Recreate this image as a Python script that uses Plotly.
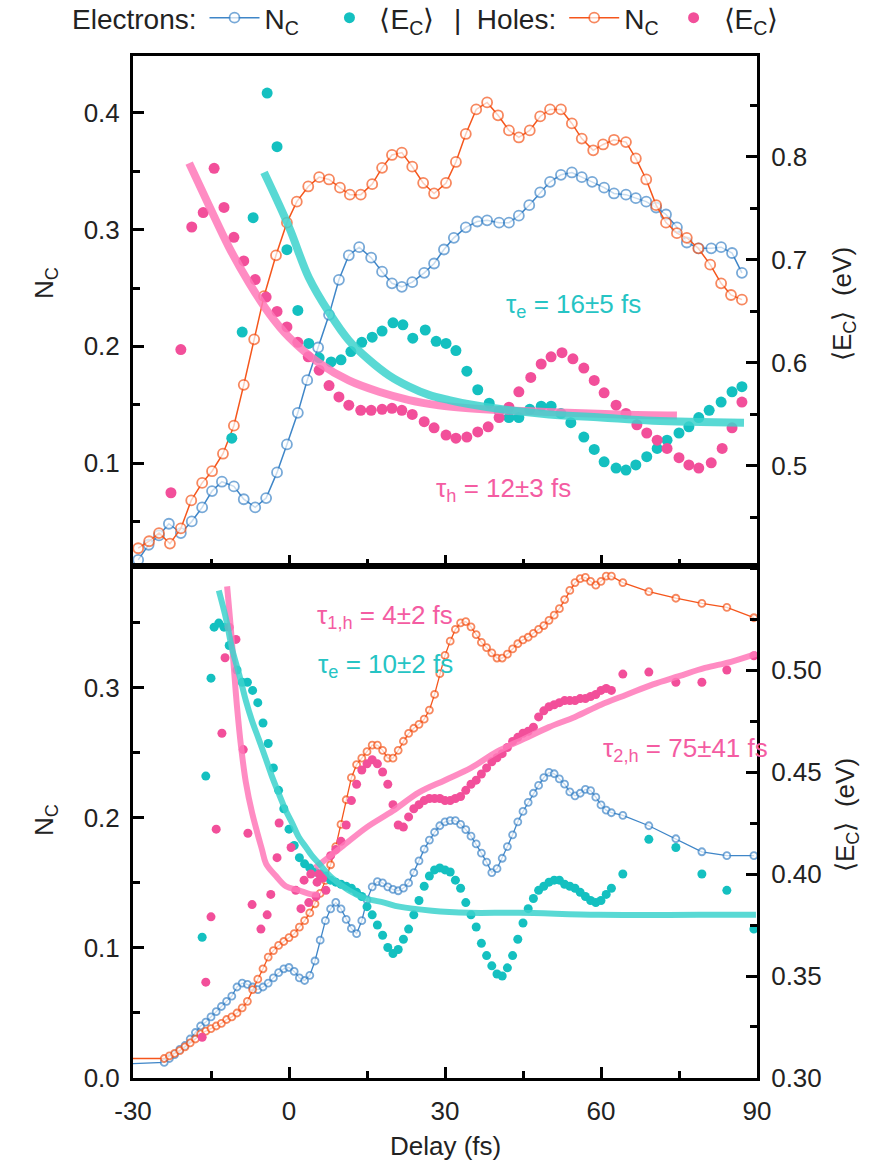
import plotly.graph_objects as go

# ---------------- data : top panel ----------------
t_top_ne = [-29.0, -27.0, -25.0, -23.1, -20.8, -18.7, -16.7, -14.8, -12.9, -10.6,
            -8.7, -6.5, -4.4, -2.3, -0.4, 1.7, 3.5, 5.6, 7.7, 9.6,
            11.5, 13.5, 15.8, 17.9, 19.8, 21.7, 23.7, 26.0, 27.9, 29.8,
            31.7, 34.0, 36.2, 38.1, 40.4, 42.3, 44.2, 46.2, 48.3, 50.2,
            52.3, 54.4, 56.3, 58.3, 60.6, 62.5, 64.8, 66.7, 68.7, 70.6,
            72.5, 74.6, 76.5, 78.8, 81.2, 83.1, 85.2, 87.1]
n_top_e = [0.017, 0.030, 0.038, 0.048, 0.040, 0.050, 0.062, 0.076, 0.084, 0.080,
           0.069, 0.062, 0.070, 0.092, 0.116, 0.143, 0.171, 0.199, 0.227, 0.257,
           0.278, 0.285, 0.276, 0.264, 0.254, 0.251, 0.255, 0.263, 0.271, 0.283,
           0.293, 0.302, 0.307, 0.308, 0.306, 0.306, 0.312, 0.321, 0.332, 0.341,
           0.347, 0.349, 0.345, 0.341, 0.336, 0.331, 0.330, 0.327, 0.324, 0.319,
           0.313, 0.302, 0.289, 0.284, 0.284, 0.285, 0.280, 0.263]

t_top_nh = [-29.0, -26.9, -25.0, -22.9, -20.8, -18.8, -16.7, -14.8, -12.7, -10.6,
            -8.7, -6.7, -4.8, -2.5, -0.4, 1.5, 3.7, 5.8, 7.7, 9.8,
            11.7, 13.8, 16.0, 17.9, 19.8, 21.7, 23.7, 25.8, 27.9, 30.2,
            32.1, 34.0, 36.0, 38.1, 40.2, 42.3, 44.2, 46.3, 48.3, 50.2,
            52.3, 54.4, 56.3, 58.5, 60.4, 62.5, 64.8, 66.7, 68.7, 70.6,
            72.5, 74.6, 76.5, 78.7, 81.0, 83.1, 85.0, 87.1]
n_top_h = [0.027, 0.033, 0.040, 0.031, 0.044, 0.068, 0.083, 0.093, 0.108, 0.132,
           0.167, 0.206, 0.243, 0.278, 0.306, 0.324, 0.337, 0.345, 0.343, 0.336,
           0.330, 0.330, 0.339, 0.353, 0.364, 0.366, 0.354, 0.340, 0.331, 0.340,
           0.358, 0.382, 0.403, 0.409, 0.398, 0.385, 0.379, 0.385, 0.397, 0.403,
           0.403, 0.391, 0.378, 0.368, 0.373, 0.377, 0.375, 0.361, 0.343, 0.321,
           0.306, 0.297, 0.293, 0.284, 0.270, 0.254, 0.244, 0.240]

t_top_ee = [-11.0, -9.0, -6.9, -4.2, -2.3, -0.4, 1.7, 3.8, 5.8, 8.1,
            10.0, 11.9, 14.0, 16.0, 17.9, 20.0, 21.9, 23.8, 26.2, 28.3,
            30.2, 32.1, 34.2, 36.3, 38.5, 40.4, 42.3, 44.2, 46.3, 48.5,
            50.4, 52.3, 54.2, 56.7, 58.7, 60.6, 62.9, 64.8, 66.7, 68.8,
            70.8, 72.7, 75.0, 76.9, 78.8, 80.8, 83.1, 85.2, 87.1]
e_top_e = [0.527, 0.630, 0.741, 0.862, 0.810, 0.710, 0.651, 0.619, 0.605, 0.601,
           0.603, 0.611, 0.620, 0.625, 0.631, 0.639, 0.637, 0.624, 0.632, 0.621,
           0.619, 0.612, 0.592, 0.574, 0.561, 0.553, 0.547, 0.547, 0.555, 0.558,
           0.558, 0.551, 0.542, 0.528, 0.516, 0.504, 0.498, 0.496, 0.501, 0.509,
           0.517, 0.525, 0.532, 0.538, 0.547, 0.554, 0.562, 0.572, 0.577]

t_top_eh = [-22.7, -20.8, -18.7, -16.5, -14.4, -12.5, -10.6, -8.7, -6.5, -4.4,
            -2.3, -0.4, 1.7, 3.7, 5.8, 7.7, 9.6, 11.5, 13.8, 15.8,
            17.9, 19.8, 21.7, 23.7, 26.0, 27.9, 30.2, 32.1, 34.2, 36.3,
            38.3, 40.4, 42.3, 44.2, 46.5, 48.5, 50.4, 52.5, 54.6, 56.7,
            58.7, 60.6, 62.9, 64.8, 66.9, 68.8, 70.8, 72.7, 75.0, 76.9,
            78.8, 81.2, 83.3, 85.2, 87.1]
e_top_h = [0.474, 0.613, 0.732, 0.746, 0.789, 0.751, 0.722, 0.699, 0.681, 0.664,
           0.650, 0.635, 0.620, 0.606, 0.593, 0.578, 0.567, 0.559, 0.554, 0.554,
           0.555, 0.556, 0.554, 0.550, 0.543, 0.537, 0.530, 0.527, 0.528, 0.533,
           0.538, 0.547, 0.557, 0.572, 0.586, 0.599, 0.606, 0.610, 0.604, 0.595,
           0.583, 0.571, 0.559, 0.551, 0.540, 0.532, 0.525, 0.517, 0.508, 0.501,
           0.498, 0.503, 0.517, 0.537, 0.562]

# fits
t_fit_top_e = [-4.8, 0.0, 3.8, 7.7, 11.5, 15.4, 19.2, 23.1, 26.9, 30.8, 34.6, 41.0, 50.0, 60.0, 70.0, 87.5]
e_fit_top_e = [0.785, 0.732, 0.683, 0.649, 0.622, 0.603, 0.588, 0.577, 0.569, 0.564, 0.560, 0.555, 0.550, 0.547, 0.544, 0.542]
t_fit_top_h = [-19.2, -15.4, -11.5, -7.7, -3.8, 0.0, 5.8, 11.5, 17.3, 23.1, 28.8, 34.6, 41.0, 52.0, 63.5, 74.6]
e_fit_top_h = [0.794, 0.753, 0.712, 0.678, 0.648, 0.625, 0.600, 0.583, 0.572, 0.564, 0.559, 0.556, 0.554, 0.552, 0.550, 0.549]

# ---------------- data : bottom panel ----------------
t_bot_n = [-30, -24, -23, -22, -21, -20, -19, -18, -17, -16, -15, -14, -13, -12, -11, -10,
           -9, -8, -7, -6, -5, -4, -3, -2, -1, 0, 1, 2, 3, 4, 5, 6, 7, 8, 9, 10,
           11, 12, 13, 14, 15, 16, 17, 18, 19, 20, 21, 22, 23, 24, 25, 26, 27, 28, 29, 30,
           31, 32, 33, 34, 35, 36, 37, 38, 39, 40, 41, 42, 43, 44, 45, 46, 47, 48, 49, 50,
           51, 52, 53, 54, 55, 56, 57, 58, 59, 60, 61, 62,
           64.2, 69.2, 74.4, 79.4, 84.2, 89.4]
n_bot_h = [0.015, 0.015, 0.017, 0.019, 0.021, 0.024, 0.027, 0.030, 0.034, 0.036, 0.038, 0.040, 0.042, 0.045, 0.047, 0.050,
           0.054, 0.059, 0.068, 0.076, 0.084, 0.093, 0.098, 0.102, 0.105, 0.108, 0.111, 0.116, 0.121, 0.127, 0.134, 0.142, 0.152, 0.164, 0.178, 0.195,
           0.214, 0.231, 0.241, 0.246, 0.251, 0.256, 0.256, 0.252, 0.246, 0.246, 0.252, 0.259, 0.265, 0.269, 0.272, 0.276, 0.283, 0.295, 0.311, 0.325,
           0.336, 0.345, 0.350, 0.351, 0.347, 0.341, 0.335, 0.331, 0.327, 0.323, 0.323, 0.326, 0.330, 0.334, 0.337, 0.339, 0.342, 0.345, 0.348, 0.352,
           0.356, 0.361, 0.368, 0.375, 0.381, 0.384, 0.385, 0.382, 0.379, 0.382, 0.386, 0.386,
           0.381, 0.374, 0.369, 0.365, 0.362, 0.354]
n_bot_e = [0.011, 0.012, 0.015, 0.018, 0.022, 0.025, 0.030, 0.035, 0.040, 0.043, 0.047, 0.051, 0.055, 0.059, 0.063, 0.070,
           0.073, 0.072, 0.070, 0.068, 0.070, 0.073, 0.077, 0.081, 0.084, 0.085, 0.082, 0.077, 0.075, 0.079, 0.090, 0.106, 0.121, 0.130, 0.135, 0.130,
           0.122, 0.115, 0.111, 0.121, 0.137, 0.147, 0.151, 0.150, 0.147, 0.145, 0.144, 0.146, 0.150, 0.158, 0.167, 0.176, 0.183, 0.189, 0.194, 0.197,
           0.198, 0.198, 0.195, 0.191, 0.186, 0.180, 0.173, 0.166, 0.158, 0.161, 0.169, 0.178, 0.187, 0.197, 0.205, 0.212, 0.219, 0.225, 0.231, 0.235,
           0.234, 0.230, 0.226, 0.220, 0.217, 0.219, 0.222, 0.221, 0.216, 0.210, 0.206, 0.204,
           0.202, 0.194, 0.184, 0.174, 0.171, 0.171]

t_bot_ee = [-16.7, -16.0, -15.0, -14.4, -13.5, -12.5, -11.5,
            -10, -9, -8, -7, -6, -5, -4, -3, -2, -1, 0, 1, 2, 3, 4, 5, 6, 7, 8, 9,
            10, 11, 12, 13, 14, 15, 16, 17, 18, 19, 20, 21, 22, 23, 24, 25, 26, 27, 28, 29,
            30, 31, 32, 33, 34, 35, 36, 37, 38, 39, 40, 41, 42, 43, 44, 45, 46, 47, 48, 49,
            50, 51, 52, 53, 54, 55, 56, 57, 58, 59, 60, 61, 62,
            64.2, 69.2, 74.4, 79.4, 84.2, 89.4]
e_bot_e = [0.369, 0.448, 0.496, 0.521, 0.523, 0.521, 0.512,
           0.500, 0.494, 0.494, 0.490, 0.484, 0.474, 0.464, 0.452, 0.441, 0.432, 0.422, 0.414, 0.408, 0.405, 0.403, 0.401, 0.400, 0.399, 0.397, 0.396,
           0.395, 0.394, 0.393, 0.391, 0.389, 0.384, 0.380, 0.375, 0.370, 0.364, 0.361, 0.363, 0.368, 0.373, 0.380, 0.387, 0.394, 0.399, 0.402, 0.403,
           0.402, 0.401, 0.397, 0.393, 0.386, 0.380, 0.374, 0.366, 0.360, 0.355, 0.351, 0.350, 0.354, 0.360, 0.368, 0.376, 0.383, 0.388, 0.392, 0.394,
           0.396, 0.397, 0.397, 0.395, 0.394, 0.393, 0.391, 0.389, 0.387, 0.386, 0.387, 0.390, 0.393,
           0.400, 0.417, 0.413, 0.400, 0.392, 0.373]

t_bot_eh = [-16.7, -16.0, -15.0, -14.0, -12.9, -12.3, -11.5, -10.2, -8.8, -7.9, -7.1, -5.4, -4.2, -3.5,
            -2.3, -1.9, 0.4, 1.3, 2.3, 2.9, 3.8, 4.2, 5.2, 5.4, 5.8, 6.5, 7.1,
            8, 9, 10, 11, 12, 13, 14, 15, 16, 17, 18, 19, 20, 21, 22, 23, 24, 25, 26, 27, 28, 29,
            30, 31, 32, 33, 34, 35, 36, 37, 38, 39, 40, 41, 42, 43, 44, 45, 46, 47, 48, 49,
            50, 51, 52, 53, 54, 55, 56, 57, 58, 59, 60, 61, 62,
            64.2, 69.2, 74.4, 79.4, 84.2, 89.4]
e_bot_h = [0.320, 0.347, 0.379, 0.422, 0.469, 0.506, 0.521, 0.515, 0.461, 0.420, 0.385, 0.373, 0.380, 0.390,
           0.408, 0.425, 0.413, 0.392, 0.383, 0.397, 0.386, 0.400, 0.389, 0.396, 0.400, 0.398, 0.392,
           0.409, 0.412, 0.416, 0.424, 0.436, 0.444, 0.451, 0.454, 0.456, 0.454, 0.450, 0.444, 0.434, 0.424, 0.423, 0.428, 0.432, 0.434, 0.436, 0.437, 0.437, 0.437,
           0.436, 0.436, 0.437, 0.438, 0.441, 0.444, 0.446, 0.449, 0.452, 0.455, 0.457, 0.459, 0.462, 0.465, 0.467, 0.469, 0.470, 0.472, 0.477, 0.480,
           0.482, 0.483, 0.484, 0.485, 0.485, 0.485, 0.486, 0.486, 0.487, 0.488, 0.490, 0.491, 0.490,
           0.498, 0.499, 0.494, 0.494, 0.500, 0.507]

t_fit_bot_e = [-13.5, -12.1, -11.0, -9.6, -8.3, -7.1, -5.8, -4.4, -3.3, -1.9, -0.6, 0.6, 1.9, 3.3, 4.4, 5.8,
               8.3, 11.5, 14.8, 18.3, 21.2, 27.5, 34.6, 44.2, 59.6, 78.8, 89.8]
e_fit_bot_e = [0.539, 0.525, 0.511, 0.498, 0.485, 0.475, 0.466, 0.456, 0.448, 0.439, 0.431, 0.425, 0.418, 0.413, 0.409, 0.405,
               0.398, 0.392, 0.388, 0.386, 0.384, 0.382, 0.381, 0.381, 0.380, 0.380, 0.380]
t_fit_bot_h1 = [-11.9, -11.2, -10.6, -10.0, -9.2, -8.3, -7.1, -5.2, -4.4, -2.5, -0.6, 1.9, 4.4, 5.8]
e_fit_bot_h1 = [0.541, 0.521, 0.501, 0.482, 0.462, 0.445, 0.430, 0.412, 0.405, 0.399, 0.394, 0.392, 0.390, 0.390]
t_fit_bot_h2 = [5, 10, 15, 20, 25, 30, 35, 40, 45, 50, 55, 60, 65, 70, 75, 80, 85, 90]
e_fit_bot_h2 = [0.403, 0.413, 0.423, 0.431, 0.440, 0.446, 0.452, 0.460, 0.466, 0.472, 0.477, 0.483,
                0.488, 0.493, 0.497, 0.501, 0.504, 0.508]

x_ticks = [-30, 0, 30, 60, 90]
x_tick_labels = ["-30", "0", "30", "60", "90"]
y4_ticks = [0.30, 0.35, 0.40, 0.45, 0.50]

# ---------------- styles ----------------
FONT = "Liberation Sans, Arial, Helvetica, sans-serif"
C_NE = "#3f86c8"
C_NH = "#f5561c"
C_EE = "#14c0c0"
C_EH = "#f24f9a"
C_FIT_E = "rgba(60,210,205,0.85)"
C_FIT_H = "rgba(255,120,185,0.85)"
FS = 26
FS_LEG = 28
NB = "\u00a0"

fig = go.Figure()

def nc_trace(t, n, color, yax, size, lw, show, legend, pad=2):
    sizes = [size] * len(t)
    if t[0] <= -30:
        sizes[0] = 0
    return go.Scatter(x=t, y=n, mode="lines+markers", yaxis=yax,
                      xaxis="x" if yax in ("y", "y2") else "x2",
                      line=dict(color=color, width=lw),
                      marker=dict(size=sizes, color="white", line=dict(color=color, width=1.8)),
                      name="N<sub>C</sub>" + NB * pad, showlegend=show, legend=legend)

def ec_trace(t, e, color, yax, size, show, legend):
    return go.Scatter(x=t, y=e, mode="markers", yaxis=yax,
                      xaxis="x" if yax in ("y", "y2") else "x2",
                      marker=dict(size=size, color=color),
                      name="\u27e8E<sub>C</sub>\u27e9", showlegend=show, legend=legend)

def fit_trace(t, e, color, yax, w):
    return go.Scatter(x=t, y=e, mode="lines", yaxis=yax,
                      xaxis="x" if yax in ("y", "y2") else "x2",
                      line=dict(color=color, width=w, shape="spline"),
                      showlegend=False, hoverinfo="skip")

# top panel
fig.add_trace(nc_trace(t_top_ne, n_top_e, C_NE, "y", 10, 1.5, True, "legend", 2))
fig.add_trace(ec_trace(t_top_ee, e_top_e, C_EE, "y2", 11, True, "legend"))
fig.add_trace(nc_trace(t_top_nh, n_top_h, C_NH, "y", 10, 1.5, True, "legend2", 0))
fig.add_trace(ec_trace(t_top_eh, e_top_h, C_EH, "y2", 11, True, "legend2"))
fig.add_trace(fit_trace(t_fit_top_h, e_fit_top_h, C_FIT_H, "y2", 8))
fig.add_trace(fit_trace(t_fit_top_e, e_fit_top_e, C_FIT_E, "y2", 8))

# bottom panel
fig.add_trace(nc_trace(t_bot_n, n_bot_e, C_NE, "y3", 7, 1.3, False, "legend"))
fig.add_trace(nc_trace(t_bot_n, n_bot_h, C_NH, "y3", 7, 1.3, False, "legend"))
fig.add_trace(ec_trace(t_bot_ee, e_bot_e, C_EE, "y4", 9, False, "legend"))
fig.add_trace(ec_trace(t_bot_eh, e_bot_h, C_EH, "y4", 9, False, "legend"))
fig.add_trace(fit_trace(t_fit_bot_h1, e_fit_bot_h1, C_FIT_H, "y4", 6))
fig.add_trace(fit_trace(t_fit_bot_h2, e_fit_bot_h2, C_FIT_H, "y4", 6))
fig.add_trace(fit_trace(t_fit_bot_e, e_fit_bot_e, C_FIT_E, "y4", 6))

ax_common = dict(showgrid=False, zeroline=False, showline=True, linecolor="black", linewidth=3,
                 ticks="inside", ticklen=11, tickwidth=2.5, tickcolor="black",
                 tickfont=dict(family=FONT, size=FS, color="#222"))

def minor(dt, t0=0):
    return dict(ticks="inside", ticklen=7, tickwidth=2.5, tickcolor="black", dtick=dt, tick0=t0)

# legend placement in paper units (plot area spans 133..757 px, 56..1078 px)
LEG_Y = 1 + 63 / 1022.0
split = 0.501
fig.update_layout(
    width=876, height=1167,
    margin=dict(l=133, r=119, t=56, b=89, autoexpand=False),
    paper_bgcolor="white", plot_bgcolor="white",
    font=dict(family=FONT, size=FS, color="#222"),
    xaxis=dict(**ax_common, domain=[0, 1], anchor="y", range=[-30, 90], tickvals=x_ticks,
               showticklabels=False, mirror=True, minor=minor(15, -30)),
    yaxis=dict(**ax_common, domain=[split, 1], anchor="x", range=[0.0118, 0.4488], dtick=0.1, tick0=0,
               tickformat=".1f", ticklabelstandoff=5, minor=minor(0.05)),
    yaxis2=dict(**ax_common, overlaying="y", side="right", anchor="x", range=[0.4029, 0.898], dtick=0.1, tick0=0,
                tickformat=".1f", ticklabelstandoff=6, minor=minor(0.05)),
    xaxis2=dict(**ax_common, domain=[0, 1], anchor="y3", range=[-30, 90], tickvals=x_ticks, ticktext=x_tick_labels,
                mirror=True, ticklabelstandoff=8, minor=minor(15, -30)),
    yaxis3=dict(**ax_common, domain=[0, split], anchor="x2", range=[0, 0.3938], dtick=0.1, tick0=0,
                tickformat=".1f", ticklabelstandoff=5, minor=minor(0.05)),
    yaxis4=dict(**ax_common, overlaying="y3", side="right", anchor="x2", range=[0.30, 0.551],
                tickvals=y4_ticks, tickformat=".2f", ticklabelstandoff=6, minor=minor(0.025)),
    legend=dict(title=dict(text="Electrons:", side="left", font=dict(size=FS_LEG)), orientation="h",
                x=(70 - 133) / 624.0, xanchor="left", y=LEG_Y, yanchor="top", font=dict(family=FONT, size=FS_LEG),
                bgcolor="rgba(0,0,0,0)", itemwidth=50, tracegroupgap=0),
    legend2=dict(title=dict(text="|" + NB * 2 + "Holes:", side="left", font=dict(size=FS_LEG)), orientation="h",
                 x=(452 - 133) / 624.0, xanchor="left", y=LEG_Y, yanchor="top", font=dict(family=FONT, size=FS_LEG),
                 bgcolor="rgba(0,0,0,0)", itemwidth=50, tracegroupgap=0),
    showlegend=True,
)

ann = []
def a(text, x, y, xref, yref, color, angle=0, size=FS):
    ann.append(dict(text=text, x=x, y=y, xref=xref, yref=yref, showarrow=False,
                    textangle=angle, font=dict(family=FONT, size=size, color=color),
                    xanchor="center", yanchor="middle"))

a("\u03c4<sub>e</sub> = 16\u00b15 fs", 54.8, 0.656, "x", "y2", "#26c4c4")
a("\u03c4<sub>h</sub> = 12\u00b13 fs", 41.3, 0.477, "x", "y2", "#f45ca2")
a("\u03c4<sub>1,h</sub> = 4\u00b12 fs", 18.5, 0.526, "x2", "y4", "#f45ca2")
a("\u03c4<sub>e</sub> = 10\u00b12 fs", 18.5, 0.502, "x2", "y4", "#26c4c4")
a("\u03c4<sub>2,h</sub> = 75\u00b141 fs", 76.2, 0.461, "x2", "y4", "#f45ca2")

# axis titles (paper coordinates)
def px_x(px):
    return (px - 133) / 624.0
def px_y(py):
    return 1 - (py - 56) / 1022.0

a("N<sub>C</sub>", px_x(45), px_y(283), "paper", "paper", "#222", -90)
a("N<sub>C</sub>", px_x(45), px_y(820), "paper", "paper", "#222", -90)
a("\u27e8E<sub>C</sub>\u27e9  (eV)", px_x(843), px_y(304), "paper", "paper", "#222", -90)
a("\u27e8E<sub>C</sub>\u27e9  (eV)", px_x(846), px_y(815), "paper", "paper", "#222", -90)
a("Delay (fs)", px_x(445), px_y(1146), "paper", "paper", "#222", 0)

fig.update_layout(annotations=ann)
fig.write_html("out.html")
